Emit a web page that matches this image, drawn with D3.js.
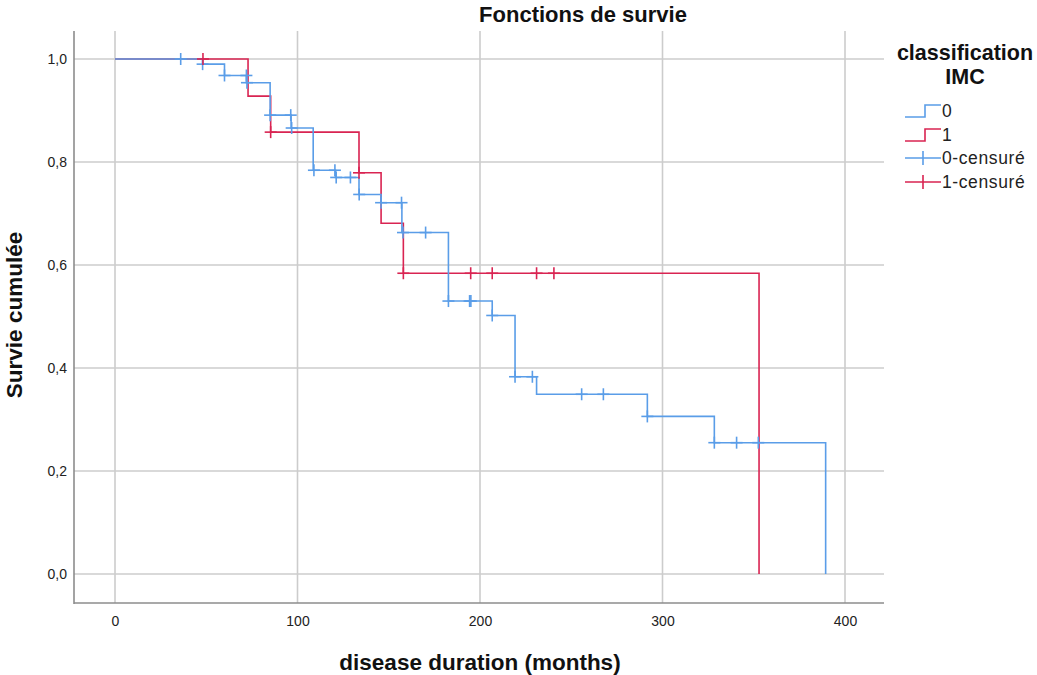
<!DOCTYPE html>
<html>
<head>
<meta charset="utf-8">
<script src="https://cdn.jsdelivr.net/npm/d3@7"></script>
<style>
  body { margin: 0; background: #fff; }
  svg { display: block; font-family: "Liberation Sans", Arial, sans-serif; }
</style>
</head>
<body>
<svg id="chart" width="1037" height="675"></svg>
<script>
// ---- data ----
const xTicks = [0, 100, 200, 300, 400];
const yTicks = [0, 0.2, 0.4, 0.6, 0.8, 1.0];

// group 0 : step times and survival after each step
const g0Times = [0, 48, 60, 72, 85, 96.5, 108.6, 120.8, 133.7, 145.8, 157.2, 182.7, 206.7, 219.2, 231, 291.7, 328.4, 389.4];
const g0Surv  = [1.0, 0.990, 0.968, 0.954, 0.891, 0.866, 0.784, 0.770, 0.737, 0.721, 0.663, 0.530, 0.502, 0.383, 0.349, 0.306, 0.255, 0.0];
// group 0 censored observations
const g0CensTimes = [36, 48, 60, 72, 72.3, 85, 96.3, 96.8, 109, 120.5, 121.2, 129, 133.8, 145.8, 157, 157.8, 170.2, 182.7, 194.3, 195, 206.7, 219.2, 228.7, 255.7, 267.6, 291.7, 328.4, 340.6, 352.5];
const g0CensSurv  = [1.0, 0.990, 0.968, 0.968, 0.954, 0.891, 0.891, 0.866, 0.784, 0.784, 0.770, 0.770, 0.737, 0.721, 0.721, 0.663, 0.663, 0.530, 0.530, 0.530, 0.502, 0.383, 0.383, 0.349, 0.349, 0.306, 0.255, 0.255, 0.255];

// group 1
const g1Times = [0, 72.9, 85.3, 133.7, 145.8, 158, 352.9];
const g1Surv  = [1.0, 0.928, 0.858, 0.779, 0.681, 0.584, 0.0];
const g1CensTimes = [48.2, 85.3, 133.7, 158, 194.9, 206.7, 231, 240.5];
const g1CensSurv  = [1.0, 0.858, 0.779, 0.584, 0.584, 0.584, 0.584, 0.584];

const legendLabels = ["0", "1", "0-censuré", "1-censuré"];

// ---- layout ----
const svg = d3.select("#chart");
const blue = "#5a9de8";
const red = "#d92452";
const frame = {left: 74, right: 884, top: 31, bottom: 603};

const x = d3.scaleLinear().domain([0, 400]).range([115, 845]);
const y = d3.scaleLinear().domain([0, 1]).range([574, 59]);

// grid lines
const grid = svg.append("g");
grid.selectAll("line.v").data(xTicks).join("line")
  .attr("x1", d => x(d)).attr("x2", d => x(d))
  .attr("y1", frame.top).attr("y2", frame.bottom)
  .attr("stroke", "#cccccc").attr("stroke-width", 1.6);
grid.selectAll("line.h").data(yTicks).join("line")
  .attr("x1", frame.left).attr("x2", frame.right)
  .attr("y1", d => y(d)).attr("y2", d => y(d))
  .attr("stroke", "#cccccc").attr("stroke-width", 1.6);

// axes lines
svg.append("line").attr("x1", frame.left).attr("x2", frame.left)
  .attr("y1", frame.top).attr("y2", frame.bottom + 1)
  .attr("stroke", "#8c8c8c").attr("stroke-width", 1.6);
svg.append("line").attr("x1", frame.left).attr("x2", frame.right)
  .attr("y1", frame.bottom).attr("y2", frame.bottom)
  .attr("stroke", "#8c8c8c").attr("stroke-width", 1.6);

// tick labels via d3 axes (domain/ticks hidden)
const fmtY = d => d3.format(".1f")(d).replace(".", ",");
const yAxis = svg.append("g").attr("transform", `translate(${frame.left},0)`)
  .call(d3.axisLeft(y).tickValues(yTicks).tickFormat(fmtY).tickSize(0).tickPadding(7));
const xAxis = svg.append("g").attr("transform", `translate(0,${frame.bottom})`)
  .call(d3.axisBottom(x).tickValues(xTicks).tickFormat(d3.format("d")).tickSize(0).tickPadding(13));
[yAxis, xAxis].forEach(a => {
  a.select(".domain").remove();
  a.selectAll("text").attr("font-size", 14).attr("fill", "#222")
    .attr("font-family", "'Liberation Sans', Arial, sans-serif");
});

// step curves
function stepPath(times, surv) {
  const pts = times.map((t, i) => [t, surv[i]]);
  const line = d3.line().x(d => x(d[0])).y(d => y(d[1])).curve(d3.curveStepAfter);
  return line(pts);
}
svg.append("path").attr("d", stepPath(g1Times, g1Surv))
  .attr("fill", "none").attr("stroke", red).attr("stroke-width", 1.6);
svg.append("path").attr("d", stepPath(g0Times, g0Surv))
  .attr("fill", "none").attr("stroke", blue).attr("stroke-width", 1.6);

// censor marks
function censor(times, surv, color) {
  const g = svg.append("g").attr("stroke", color).attr("stroke-width", 1.6);
  const pts = times.map((t, i) => [t, surv[i]]);
  g.selectAll("line.h").data(pts).join("line")
    .attr("x1", d => x(d[0]) - 6).attr("x2", d => x(d[0]) + 6)
    .attr("y1", d => y(d[1])).attr("y2", d => y(d[1]));
  g.selectAll("line.v").data(pts).join("line")
    .attr("x1", d => x(d[0])).attr("x2", d => x(d[0]))
    .attr("y1", d => y(d[1]) - 6).attr("y2", d => y(d[1]) + 6);
}
censor(g0CensTimes, g0CensSurv, blue);
censor(g1CensTimes, g1CensSurv, red);

// titles
svg.append("text").attr("x", 583).attr("y", 22).attr("text-anchor", "middle")
  .attr("font-size", 22).attr("font-weight", "bold").attr("fill", "#111")
  .text("Fonctions de survie");
svg.append("text").attr("x", 480).attr("y", 670).attr("text-anchor", "middle")
  .attr("font-size", 22.5).attr("font-weight", "bold").attr("fill", "#111")
  .text("disease duration (months)");
svg.append("text").attr("transform", "translate(22,315) rotate(-90)").attr("text-anchor", "middle")
  .attr("font-size", 22.5).attr("font-weight", "bold").attr("fill", "#111")
  .text("Survie cumulée");

// legend
const lg = svg.append("g");
lg.append("text").attr("x", 965).attr("y", 60).attr("text-anchor", "middle")
  .attr("font-size", 21.5).attr("font-weight", "bold").attr("fill", "#111").text("classification");
lg.append("text").attr("x", 965).attr("y", 84).attr("text-anchor", "middle")
  .attr("font-size", 21.5).attr("font-weight", "bold").attr("fill", "#111").text("IMC");
const rowY = [111, 135, 158, 182];
const colors = [blue, red, blue, red];
legendLabels.forEach((lab, i) => {
  const yy = rowY[i];
  if (i < 2) {
    lg.append("path")
      .attr("d", `M905,${yy + 6}H925V${yy - 6}H941`)
      .attr("fill", "none").attr("stroke", colors[i]).attr("stroke-width", 1.6);
  } else {
    lg.append("path")
      .attr("d", `M905,${yy}H941M923,${yy - 7}V${yy + 7}`)
      .attr("fill", "none").attr("stroke", colors[i]).attr("stroke-width", 1.6);
  }
  lg.append("text").attr("x", 942).attr("y", yy + 6)
    .attr("font-size", 17.5).attr("letter-spacing", 0.6).attr("fill", "#222").text(lab);
});
</script>
</body>
</html>
